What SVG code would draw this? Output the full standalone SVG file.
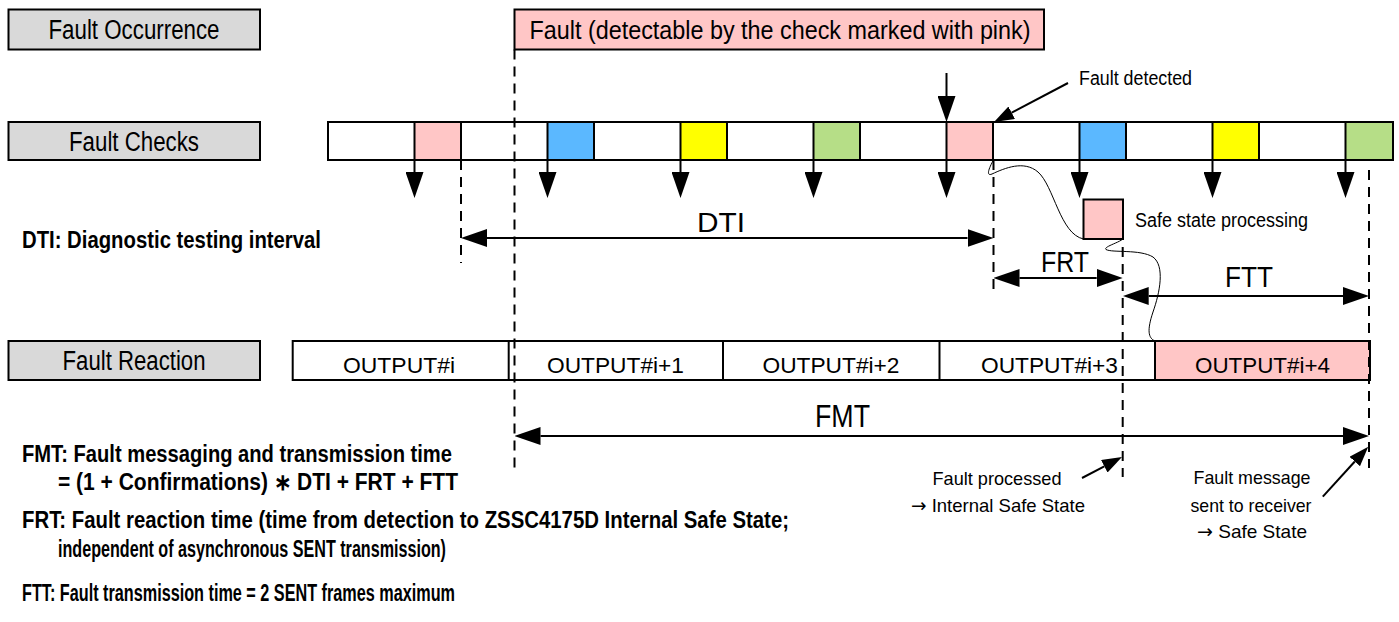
<svg xmlns="http://www.w3.org/2000/svg" width="1399" height="622" viewBox="0 0 1399 622">
<style>
.box{stroke:#000;stroke-width:2}
.lbl{fill:#d9d9d9}
.wht{fill:#fff}
.pink{fill:#ffc6c6}
.blue{fill:#5bb8ff}
.yel{fill:#ffff00}
.grn{fill:#b6de87}
.t{font-family:"Liberation Sans Narrow","Liberation Sans",Arial,sans-serif;fill:#000}
.ar{font-family:"DejaVu Sans",sans-serif}
.b{font-weight:bold}
.c{text-anchor:middle}
.ln{stroke:#000;stroke-width:2;fill:none}
.dash{stroke:#000;stroke-width:2;stroke-dasharray:10 7;fill:none}
.thin{stroke:#000;stroke-width:1;fill:none}
</style>
<defs>
<marker id="ah" viewBox="0 0 26 18" refX="0" refY="9" markerWidth="26" markerHeight="18" markerUnits="userSpaceOnUse" orient="auto-start-reverse"><path d="M0,0 L26,9 L0,18 z" fill="#000"/></marker>
<marker id="as" viewBox="0 0 20 14" refX="0" refY="7" markerWidth="20" markerHeight="14" markerUnits="userSpaceOnUse" orient="auto"><path d="M0,0 L20,7 L0,14 z" fill="#000"/></marker>
</defs>
<rect width="1399" height="622" fill="#fff"/>

<g id="label-occurrence">
<rect class="box lbl" x="8.5" y="9.5" width="251.5" height="40"/>
<text class="t c" x="134" y="39" font-size="27" textLength="171" lengthAdjust="spacingAndGlyphs">Fault Occurrence</text>
</g>
<g id="label-checks">
<rect class="box lbl" x="8.5" y="122" width="251.5" height="38"/>
<text class="t c" x="134" y="150.5" font-size="27" textLength="130" lengthAdjust="spacingAndGlyphs">Fault Checks</text>
</g>
<g id="label-reaction">
<rect class="box lbl" x="8.5" y="341" width="251.5" height="39"/>
<text class="t c" x="134" y="370" font-size="27" textLength="143" lengthAdjust="spacingAndGlyphs">Fault Reaction</text>
</g>

<g id="fault-box">
<rect class="box pink" x="514.5" y="9.5" width="529.5" height="40"/>
<text class="t c" x="780" y="39" font-size="26" textLength="501" lengthAdjust="spacingAndGlyphs">Fault (detectable by the check marked with pink)</text>
</g>

<g id="check-row">
<rect class="box wht" x="328" y="122" width="1065" height="38"/>
<rect class="box pink" x="414.5" y="122" width="46.5" height="38"/>
<rect class="box blue" x="547.5" y="122" width="46.5" height="38"/>
<rect class="box yel" x="680.5" y="122" width="46.5" height="38"/>
<rect class="box grn" x="813.5" y="122" width="46.5" height="38"/>
<rect class="box pink" x="946.5" y="122" width="46.5" height="38"/>
<rect class="box blue" x="1079.5" y="122" width="46.5" height="38"/>
<rect class="box yel" x="1212.5" y="122" width="46.5" height="38"/>
<rect class="box grn" x="1345.5" y="122" width="47.5" height="38"/>
</g>

<g id="safe-state">
<rect class="box pink" x="1083.5" y="199.5" width="39.5" height="39.5"/>
<text class="t" x="1135" y="227" font-size="20" textLength="173" lengthAdjust="spacingAndGlyphs">Safe state processing</text>
</g>

<g id="output-row">
<rect class="box wht" x="292.7" y="341" width="1077.3" height="39"/>
<rect class="box pink" x="1155" y="341" width="215" height="39"/>
<line class="ln" x1="508.7" y1="341" x2="508.7" y2="380"/>
<line class="ln" x1="723" y1="341" x2="723" y2="380"/>
<line class="ln" x1="939.5" y1="341" x2="939.5" y2="380"/>
<text class="t c" x="399" y="372.7" font-size="22" textLength="112" lengthAdjust="spacingAndGlyphs">OUTPUT#i</text>
<text class="t c" x="615.5" y="372.7" font-size="22" textLength="137" lengthAdjust="spacingAndGlyphs">OUTPUT#i+1</text>
<text class="t c" x="831" y="372.7" font-size="22" textLength="137" lengthAdjust="spacingAndGlyphs">OUTPUT#i+2</text>
<text class="t c" x="1049.5" y="372.7" font-size="22" textLength="137" lengthAdjust="spacingAndGlyphs">OUTPUT#i+3</text>
<text class="t c" x="1262.5" y="372.7" font-size="22" textLength="135" lengthAdjust="spacingAndGlyphs">OUTPUT#i+4</text>
</g>

<g id="connectors">
<g id="dashed-lines">
<line class="dash" x1="514.5" y1="49.5" x2="514.5" y2="468"/>
<line class="dash" x1="461" y1="160" x2="461" y2="263"/>
<line class="dash" x1="993.5" y1="160" x2="993.5" y2="296"/>
<line class="dash" x1="1122.7" y1="247" x2="1122.7" y2="477"/>
<line class="dash" x1="1369" y1="170" x2="1369" y2="468"/>
</g>
<g id="check-arrows">
<line class="ln" x1="946.5" y1="73" x2="946.5" y2="96" marker-end="url(#ah)"/>
<line class="ln" x1="414.5" y1="160" x2="414.5" y2="172" marker-end="url(#ah)"/>
<line class="ln" x1="547.5" y1="160" x2="547.5" y2="172" marker-end="url(#ah)"/>
<line class="ln" x1="680.5" y1="160" x2="680.5" y2="172" marker-end="url(#ah)"/>
<line class="ln" x1="813.5" y1="160" x2="813.5" y2="172" marker-end="url(#ah)"/>
<line class="ln" x1="946.5" y1="160" x2="946.5" y2="172" marker-end="url(#ah)"/>
<line class="ln" x1="1079.5" y1="160" x2="1079.5" y2="172" marker-end="url(#ah)"/>
<line class="ln" x1="1212.5" y1="160" x2="1212.5" y2="172" marker-end="url(#ah)"/>
<line class="ln" x1="1345.5" y1="160" x2="1345.5" y2="172" marker-end="url(#ah)"/>
</g>
<g id="interval-arrows">
<line class="ln" x1="487" y1="238" x2="967.5" y2="238" marker-start="url(#ah)" marker-end="url(#ah)"/>
<line class="ln" x1="1019.5" y1="278" x2="1096.7" y2="278" marker-start="url(#ah)" marker-end="url(#ah)"/>
<line class="ln" x1="1148.7" y1="296" x2="1343" y2="296" marker-start="url(#ah)" marker-end="url(#ah)"/>
<line class="ln" x1="540.5" y1="436" x2="1343" y2="436" marker-start="url(#ah)" marker-end="url(#ah)"/>
</g>
<g id="pointer-arrows">
<line class="ln" x1="1068" y1="83" x2="1011.7" y2="112.7" marker-end="url(#as)"/>
<line class="ln" x1="1082" y1="478" x2="1104.3" y2="466.3" marker-end="url(#as)"/>
<line class="ln" x1="1322.8" y1="496.7" x2="1354.8" y2="461.5" marker-end="url(#as)"/>
</g>
<g id="flow-curves">
<path class="thin" d="M993.5,160 C990,166 985,177 992,174 C1005,168 1024,160 1038,172 C1054,186 1060,234 1083.5,239"/>
<path class="thin" d="M1123,239 C1118,243 1103,247 1106,249.5 C1112,253 1140,249 1153,257 C1165,266 1160,292 1153,312 C1147,330 1148,338 1155,341"/>
</g>
</g>

<g id="interval-labels">
<text class="t" x="697" y="231.5" font-size="28" textLength="48" lengthAdjust="spacingAndGlyphs">DTI</text>
<text class="t" x="1041" y="272" font-size="29" textLength="48" lengthAdjust="spacingAndGlyphs">FRT</text>
<text class="t" x="1225" y="287" font-size="29" textLength="48" lengthAdjust="spacingAndGlyphs">FTT</text>
<text class="t" x="815" y="427" font-size="31" textLength="55" lengthAdjust="spacingAndGlyphs">FMT</text>
</g>

<g id="annotations">
<text class="t" x="1079" y="85" font-size="20" textLength="113" lengthAdjust="spacingAndGlyphs">Fault detected</text>
<text class="t c" x="997" y="485" font-size="19" textLength="129" lengthAdjust="spacingAndGlyphs">Fault processed</text>
<text class="t c" x="998" y="511.7" font-size="19" textLength="174" lengthAdjust="spacingAndGlyphs"><tspan class="ar">→</tspan> Internal Safe State</text>
<text class="t c" x="1252" y="484" font-size="19" textLength="117" lengthAdjust="spacingAndGlyphs">Fault message</text>
<text class="t c" x="1251" y="511.7" font-size="19" textLength="121" lengthAdjust="spacingAndGlyphs">sent to receiver</text>
<text class="t c" x="1252" y="538.3" font-size="19" textLength="110" lengthAdjust="spacingAndGlyphs"><tspan class="ar">→</tspan> Safe State</text>
</g>

<g id="legend">
<text class="t b" x="22" y="248" font-size="23" textLength="299" lengthAdjust="spacingAndGlyphs">DTI: Diagnostic testing interval</text>
<text class="t b" x="22" y="462" font-size="23" textLength="430" lengthAdjust="spacingAndGlyphs">FMT: Fault messaging and transmission time</text>
<text class="t b" x="58" y="490" font-size="23" textLength="400" lengthAdjust="spacingAndGlyphs">= (1 + Confirmations) ∗ DTI + FRT + FTT</text>
<text class="t b" x="22" y="528" font-size="23" textLength="767" lengthAdjust="spacingAndGlyphs">FRT: Fault reaction time (time from detection to ZSSC4175D Internal Safe State;</text>
<text class="t b" x="58" y="557" font-size="23" textLength="388" lengthAdjust="spacingAndGlyphs">independent of asynchronous SENT transmission)</text>
<text class="t b" x="22" y="601" font-size="23" textLength="433" lengthAdjust="spacingAndGlyphs">FTT: Fault transmission time = 2 SENT frames maximum</text>
</g>
</svg>
